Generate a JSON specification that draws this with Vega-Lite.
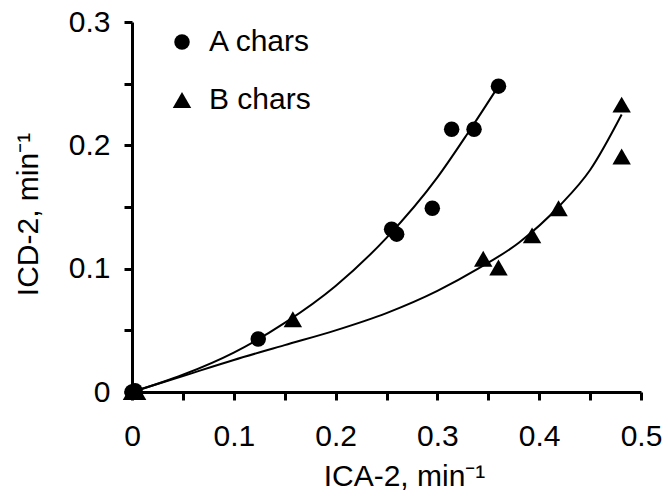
{
  "$schema": "https://vega.github.io/schema/vega-lite/v6.json",
  "width": 509,
  "height": 370,
  "autosize": {"type": "none"},
  "padding": {"left": 132, "top": 22, "right": 27, "bottom": 105},
  "background": "white",
  "config": {
    "view": {"stroke": null},
    "font": "Liberation Sans",
    "legend": {
      "orient": "none",
      "legendX": 35,
      "legendY": 5,
      "padding": 0,
      "labelFontSize": 30,
      "labelColor": "#000000",
      "labelOffset": 12,
      "rowPadding": 28
    }
  },
  "datasets": {
    "points": [
      {"series": "A chars", "x": 0, "y": 0},
      {"series": "A chars", "x": 0.003, "y": 0.001},
      {"series": "A chars", "x": 0.124, "y": 0.043},
      {"series": "A chars", "x": 0.255, "y": 0.132},
      {"series": "A chars", "x": 0.26, "y": 0.128},
      {"series": "A chars", "x": 0.295, "y": 0.149},
      {"series": "A chars", "x": 0.314, "y": 0.213},
      {"series": "A chars", "x": 0.336, "y": 0.213},
      {"series": "A chars", "x": 0.36, "y": 0.248},
      {"series": "B chars", "x": 0, "y": 0},
      {"series": "B chars", "x": 0.005, "y": 0},
      {"series": "B chars", "x": 0.158, "y": 0.059},
      {"series": "B chars", "x": 0.345, "y": 0.108},
      {"series": "B chars", "x": 0.36, "y": 0.101},
      {"series": "B chars", "x": 0.393, "y": 0.127},
      {"series": "B chars", "x": 0.419, "y": 0.149},
      {"series": "B chars", "x": 0.481, "y": 0.233},
      {"series": "B chars", "x": 0.481, "y": 0.191}
    ],
    "curves": [
      {"series": "A chars", "x": 0, "y": 0},
      {"series": "A chars", "x": 0.05, "y": 0.014},
      {"series": "A chars", "x": 0.1, "y": 0.032},
      {"series": "A chars", "x": 0.15, "y": 0.056},
      {"series": "A chars", "x": 0.2, "y": 0.086},
      {"series": "A chars", "x": 0.25, "y": 0.125},
      {"series": "A chars", "x": 0.3, "y": 0.174},
      {"series": "A chars", "x": 0.33, "y": 0.21},
      {"series": "A chars", "x": 0.36, "y": 0.248},
      {"series": "B chars", "x": 0, "y": 0},
      {"series": "B chars", "x": 0.05, "y": 0.013},
      {"series": "B chars", "x": 0.1, "y": 0.026},
      {"series": "B chars", "x": 0.15, "y": 0.038},
      {"series": "B chars", "x": 0.2, "y": 0.05},
      {"series": "B chars", "x": 0.25, "y": 0.064},
      {"series": "B chars", "x": 0.3, "y": 0.082},
      {"series": "B chars", "x": 0.34, "y": 0.1},
      {"series": "B chars", "x": 0.38, "y": 0.121},
      {"series": "B chars", "x": 0.42, "y": 0.151},
      {"series": "B chars", "x": 0.45, "y": 0.18},
      {"series": "B chars", "x": 0.481, "y": 0.225}
    ]
  },
  "encoding": {
    "x": {
      "field": "x",
      "type": "quantitative",
      "scale": {"domain": [0, 0.5], "nice": false},
      "axis": {
        "grid": false,
        "domain": true,
        "domainColor": "#000000",
        "domainWidth": 3,
        "ticks": true,
        "tickColor": "#000000",
        "tickWidth": 3,
        "tickSize": 8,
        "values": [0, 0.05, 0.1, 0.15, 0.2, 0.25, 0.3, 0.35, 0.4, 0.45, 0.5],
        "format": ".1~f",
        "labelExpr": "round(datum.value*100) % 10 == 0 ? datum.label : ''",
        "labelFontSize": 30,
        "labelColor": "black",
        "labelFlush": false,
        "labelOverlap": false,
        "labelPadding": 21,
        "title": "ICA-2, min⁻¹",
        "titleFontSize": 30,
        "titleFontWeight": "normal",
        "titleColor": "black",
        "titleX": 272,
        "titleY": 84,
        "titleBaseline": "middle",
        "titleAlign": "center"
      }
    },
    "y": {
      "field": "y",
      "type": "quantitative",
      "scale": {"domain": [0, 0.3], "nice": false},
      "axis": {
        "grid": true,
        "gridColor": "#ffffff",
        "gridWidth": 1,
        "domain": true,
        "domainColor": "#000000",
        "domainWidth": 3,
        "ticks": true,
        "tickColor": "#000000",
        "tickWidth": 3,
        "tickSize": 8,
        "values": [0, 0.05, 0.1, 0.15, 0.2, 0.25, 0.3],
        "format": ".1~f",
        "labelExpr": "round(datum.value*100) % 10 == 0 ? datum.label : ''",
        "labelFontSize": 30,
        "labelColor": "black",
        "labelFlush": false,
        "labelOverlap": false,
        "labelPadding": 14,
        "title": "ICD-2, min⁻¹",
        "titleFontSize": 30,
        "titleFontWeight": "normal",
        "titleColor": "black",
        "titleX": -104,
        "titleY": 192,
        "titleBaseline": "middle",
        "titleAlign": "center",
        "titleAngle": 270
      }
    }
  },
  "layer": [
    {
      "data": {"name": "curves"},
      "mark": {"type": "line", "interpolate": "monotone", "color": "black", "strokeWidth": 2},
      "encoding": {"detail": {"field": "series", "type": "nominal"}}
    },
    {
      "data": {"name": "points"},
      "mark": {"type": "point", "filled": true, "color": "black", "opacity": 1},
      "encoding": {
        "shape": {
          "field": "series",
          "type": "nominal",
          "scale": {"domain": ["A chars", "B chars"], "range": ["circle", "triangle-up"]},
          "legend": {"title": null}
        },
        "size": {
          "field": "series",
          "type": "nominal",
          "scale": {"domain": ["A chars", "B chars"], "range": [240, 340]},
          "legend": {"title": null}
        }
      }
    }
  ]
}
